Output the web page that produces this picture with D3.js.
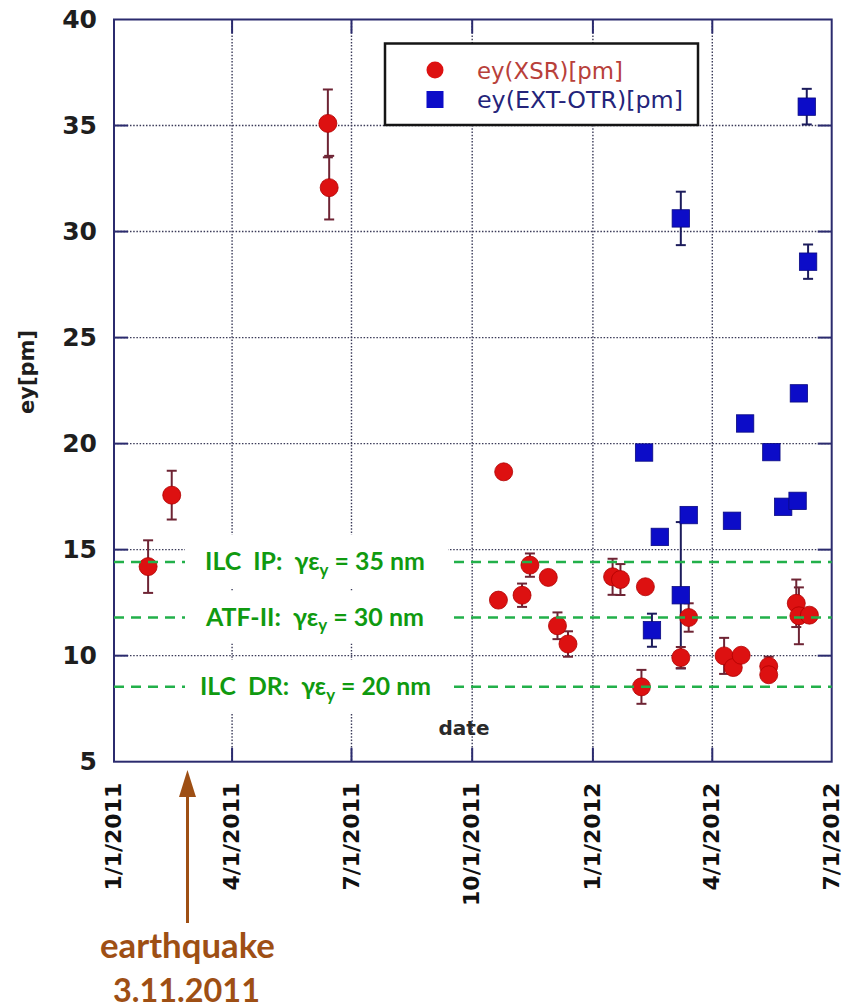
<!DOCTYPE html>
<html><head><meta charset="utf-8">
<script src="https://cdn.jsdelivr.net/npm/d3@7"></script>
<style>body{margin:0;background:#fff} svg{display:block}</style>
</head><body>
<svg id="c" width="844" height="1007"></svg>
<script>
// ---- data ----
const xsrDates  = ["2011-01-27","2011-02-14","2011-06-13","2011-06-14","2011-10-21","2011-10-25","2011-11-08","2011-11-14","2011-11-28","2011-12-05","2011-12-13","2012-01-16","2012-01-22","2012-02-07","2012-02-10","2012-03-08","2012-03-14","2012-04-10","2012-04-17","2012-04-23","2012-05-14","2012-05-14","2012-06-04","2012-06-06","2012-06-14"];
const xsrValues = [14.2,17.57,35.1,32.07,12.62,18.67,12.85,14.27,13.69,11.41,10.55,13.72,13.59,8.53,13.25,9.91,11.8,9.99,9.44,10.02,9.5,9.1,12.47,11.88,11.91];
const xsrErrors = [1.24,1.15,1.6,1.5,0,0,0.55,0.55,0,0.63,0.6,0.85,0.73,0.8,0,0.5,0.67,0.85,0,0,0.45,0,1.12,1.34,0];

const otrDates  = ["2012-02-09","2012-02-15","2012-02-21","2012-03-08","2012-03-08","2012-03-14","2012-04-16","2012-04-26","2012-05-16","2012-05-25","2012-06-05","2012-06-06","2012-06-12","2012-06-13"];
const otrValues = [19.58,11.2,15.6,30.62,12.85,16.63,16.36,20.95,19.6,17.02,17.3,22.37,35.89,28.58];
const otrErrors = [0,0.78,0,1.26,3.45,0,0,0,0,0,0,0,0.84,0.81];

const xTickDates  = ["2011-01-01","2011-04-01","2011-07-01","2011-10-01","2012-01-01","2012-04-01","2012-07-01"];
const xTickLabels = ["1/1/2011","4/1/2011","7/1/2011","10/1/2011","1/1/2012","4/1/2012","7/1/2012"];
const yTicks = [5,10,15,20,25,30,35,40];

const seriesNames = ["ey(XSR)[pm]","ey(EXT-OTR)[pm]"];
const refValues = [14.42, 11.8, 8.53];
const refPrefix = ["ILC  IP:  ", "ATF-II:  ", "ILC  DR:  "];
const refSuffix = [" = 35 nm", " = 30 nm", " = 20 nm"];
const quakeDate = "2011-02-26";   // arrow as drawn in the figure
const quakeLabel = ["earthquake", "3.11.2011"];

// ---- setup ----
const parse = d3.timeParse("%Y-%m-%d");
const svg = d3.select("#c");
const L = 114, R = 831.7, T = 19.5, B = 761.7;
const x = d3.scaleTime().domain([parse(xTickDates[0]), parse(xTickDates[xTickDates.length-1])]).range([L, R]);
const y = d3.scaleLinear().domain([5, 40]).range([B, T]);
const frameColor = "#2b2b6e";
const font = "'DejaVu Sans', Verdana, sans-serif";
const font2 = "Lato, 'Open Sans', sans-serif";

function fitWidth(sel, w) {
  const bw = sel.node().getBBox().width;
  const fs = parseFloat(sel.attr("font-size"));
  sel.attr("font-size", fs * w / bw);
}

// grid
const gridX = xTickDates.slice(1, -1).map(parse);
const gridY = yTicks.slice(1, -1);
svg.append("g").selectAll("line").data(gridX).join("line")
  .attr("x1", d => x(d)).attr("x2", d => x(d)).attr("y1", T).attr("y2", B)
  .attr("stroke", "#3a3a58").attr("stroke-width", 1.4).attr("stroke-dasharray", "1.5,1.7");
svg.append("g").selectAll("line").data(gridY).join("line")
  .attr("y1", d => y(d)).attr("y2", d => y(d)).attr("x1", L).attr("x2", R)
  .attr("stroke", "#3a3a58").attr("stroke-width", 1.4).attr("stroke-dasharray", "1.5,1.7");

// inward ticks
const tk = svg.append("g").attr("stroke", frameColor).attr("stroke-width", 2);
gridY.forEach(v => {
  tk.append("line").attr("x1", L).attr("x2", L + 14).attr("y1", y(v)).attr("y2", y(v));
  tk.append("line").attr("x1", R - 14).attr("x2", R).attr("y1", y(v)).attr("y2", y(v));
});
gridX.forEach(d => {
  tk.append("line").attr("x1", x(d)).attr("x2", x(d)).attr("y1", T).attr("y2", T + 14);
  tk.append("line").attr("x1", x(d)).attr("x2", x(d)).attr("y1", B - 14).attr("y2", B);
});

// frame
svg.append("rect").attr("x", L).attr("y", T).attr("width", R - L).attr("height", B - T)
  .attr("fill", "none").attr("stroke", frameColor).attr("stroke-width", 2);

// y axis labels
const ya = svg.append("g").attr("transform", `translate(${L},0)`)
  .call(d3.axisLeft(y).tickValues(yTicks).tickSize(0).tickPadding(17));
ya.select(".domain").remove();
ya.selectAll("text").attr("font-family", font).attr("font-weight", "bold")
  .attr("font-size", 25).attr("fill", "#1e1e1e");

// x axis labels
const xa = svg.append("g").attr("transform", `translate(0,${B})`)
  .call(d3.axisBottom(x).tickValues(xTickDates.map(parse)).tickSize(0).tickFormat((d, i) => xTickLabels[i]));
xa.select(".domain").remove();
xa.selectAll("text").attr("transform", "rotate(-90)").attr("x", -21).attr("y", 0).attr("dy", "0.3em")
  .attr("text-anchor", "end").attr("font-family", font).attr("font-weight", "bold")
  .attr("font-size", 22).attr("fill", "#111");

// axis titles
svg.append("text").attr("transform", "translate(27,372) rotate(-90)").attr("text-anchor", "middle")
  .attr("dy", "0.35em").attr("font-family", font).attr("font-weight", "bold").attr("font-size", 21)
  .attr("fill", "#1e1e1e").text("ey[pm]");
svg.append("text").attr("x", 464).attr("y", 735).attr("text-anchor", "middle")
  .attr("font-family", font).attr("font-weight", "bold").attr("font-size", 20)
  .attr("fill", "#2a2a2a").text("date");

// data
const xsr = xsrDates.map((d, i) => ({ d: parse(d), v: xsrValues[i], e: xsrErrors[i] }));
const otr = otrDates.map((d, i) => ({ d: parse(d), v: otrValues[i], e: otrErrors[i] }));

function errBars(data, color) {
  const g = svg.append("g").attr("stroke", color).attr("stroke-width", 2);
  data.filter(p => p.e > 0).forEach(p => {
    const cx = x(p.d);
    g.append("line").attr("x1", cx).attr("x2", cx).attr("y1", y(p.v + p.e)).attr("y2", y(p.v - p.e));
    g.append("line").attr("x1", cx - 5).attr("x2", cx + 5).attr("y1", y(p.v + p.e)).attr("y2", y(p.v + p.e));
    g.append("line").attr("x1", cx - 5).attr("x2", cx + 5).attr("y1", y(p.v - p.e)).attr("y2", y(p.v - p.e));
  });
}
errBars(otr, "#1c1c5c");
errBars(xsr, "#6e2434");
svg.append("g").selectAll("rect").data(otr).join("rect")
  .attr("x", p => x(p.d) - 8.7).attr("y", p => y(p.v) - 8.7).attr("width", 17.4).attr("height", 17.4)
  .attr("fill", "#0c0cc8").attr("stroke", "#0a0a80").attr("stroke-width", 0.8);
svg.append("g").selectAll("circle").data(xsr).join("circle")
  .attr("cx", p => x(p.d)).attr("cy", p => y(p.v)).attr("r", 9)
  .attr("fill", "#dd1111").attr("stroke", "#b00000").attr("stroke-width", 0.8);

// reference lines
svg.append("g").selectAll("line").data(refValues).join("line")
  .attr("x1", L).attr("x2", R).attr("y1", d => y(d)).attr("y2", d => y(d))
  .attr("stroke", "#22b04a").attr("stroke-width", 2.5).attr("stroke-dasharray", "10,7");
const refWidths = [220, 219, 231];
const refStart = [205, 206, 200];
refValues.forEach((v, i) => {
  svg.append("rect").attr("x", 185).attr("y", y(v) - 27).attr("width", 263).attr("height", 53).attr("fill", "#fff");
  const t = svg.append("text").attr("x", refStart[i]).attr("y", y(v) + 8.5)
    .attr("font-family", font2).attr("font-weight", "bold").attr("font-size", 25)
    .attr("fill", "#109a10").style("white-space", "pre");
  t.append("tspan").text(refPrefix[i] + "γε");
  t.append("tspan").attr("font-size", "0.68em").attr("dy", "0.32em").text("y");
  t.append("tspan").attr("dy", "-0.22em").text(refSuffix[i]);
  fitWidth(t, refWidths[i]);
});

// legend
const lg = svg.append("g");
lg.append("rect").attr("x", 385).attr("y", 43.5).attr("width", 313).attr("height", 81.5)
  .attr("fill", "#fff").attr("stroke", "#151515").attr("stroke-width", 2.5);
lg.append("circle").attr("cx", 435).attr("cy", 70).attr("r", 8.5).attr("fill", "#dd1111");
lg.append("rect").attr("x", 426.5).attr("y", 91).attr("width", 17).attr("height", 17).attr("fill", "#0c0cc8");
const lt1 = lg.append("text").attr("x", 477).attr("y", 79).attr("font-family", font).attr("font-size", 23)
  .attr("fill", "#b8403a").text(seriesNames[0]);
const lt2 = lg.append("text").attr("x", 477).attr("y", 108).attr("font-family", font).attr("font-size", 23)
  .attr("fill", "#24247a").text(seriesNames[1]);
lt1.attr("textLength", 146).attr("lengthAdjust", "spacingAndGlyphs");
lt2.attr("textLength", 206).attr("lengthAdjust", "spacingAndGlyphs");

// earthquake annotation
const qx = x(parse(quakeDate));
const brown = "#9e4f14";
svg.append("line").attr("x1", qx).attr("x2", qx).attr("y1", 923).attr("y2", 792)
  .attr("stroke", brown).attr("stroke-width", 3);
svg.append("path").attr("d", `M${qx},770 L${qx - 8.5},797 L${qx + 8.5},797 Z`).attr("fill", brown);
const q1 = svg.append("text").attr("x", qx).attr("y", 958).attr("text-anchor", "middle")
  .attr("font-family", font2).attr("font-weight", "bold").attr("font-size", 28).attr("fill", brown).text(quakeLabel[0]);
const q2 = svg.append("text").attr("x", qx - 1).attr("y", 1001.5).attr("text-anchor", "middle")
  .attr("font-family", font2).attr("font-weight", "bold").attr("font-size", 28).attr("fill", brown).text(quakeLabel[1]);
fitWidth(q1, 175);
fitWidth(q2, 147);
</script>
</body></html>
